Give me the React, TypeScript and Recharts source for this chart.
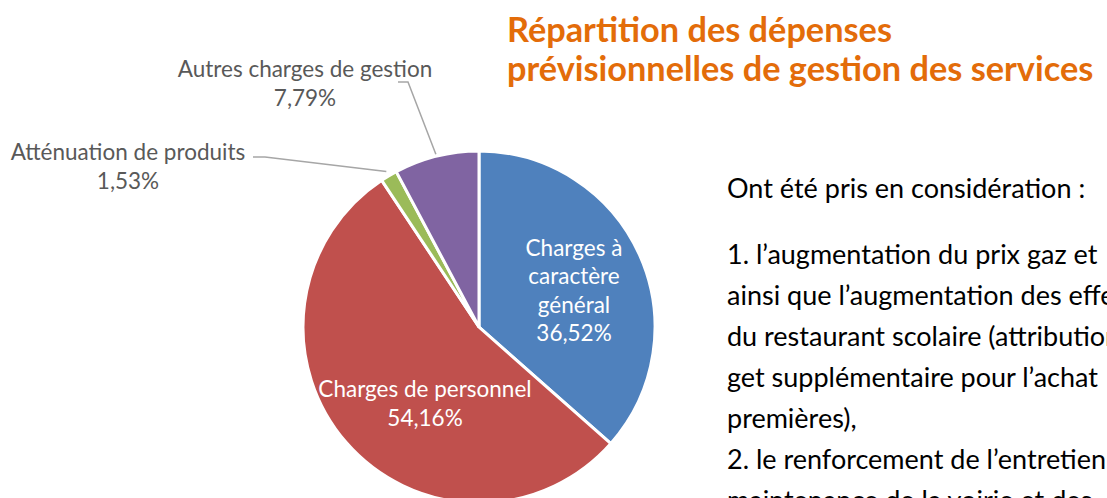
import React from "react";
import { PieChart, Pie, Cell } from "recharts";

// ---- Data ----
const categories = [
  "Charges à caractère général",
  "Charges de personnel",
  "Atténuation de produits",
  "Autres charges de gestion",
];
const values = [36.52, 54.16, 1.53, 7.79];
const labelNameLines = [
  ["Charges à", "caractère", "général"],
  ["Charges de personnel"],
  ["Atténuation de produits"],
  ["Autres charges de gestion"],
];
const titleLines = ["Répartition des dépenses", "prévisionnelles de gestion des services"];
const introLine = "Ont été pris en considération :";
const bodyLines = [
  "1. l’augmentation du prix gaz et",
  "ainsi que l’augmentation des effectifs",
  "du restaurant scolaire (attribution",
  "get supplémentaire pour l’achat",
  "premières),",
  "2. le renforcement de l’entretien",
  "maintenance de la voirie et des",
];

// ---- Styles / layout ----
const COLORS = ["#4F81BD", "#C0504D", "#9BBB59", "#8064A2"];
const FONT = "Lato, 'Open Sans', sans-serif";
const W = 1107;
const H = 498;
const CX = 479;
const CY = 327;
const R = 176;
const LABEL_FS = 22.5;
const LABEL_LH = 28.5;
const RAD = Math.PI / 180;

type Layout = {
  dx: number;
  dy: number;
  inside: boolean;
  line?: [number, number][];
  gap?: number;
};
const LABEL_LAYOUT: Layout[] = [
  { dx: 95, dy: -37, inside: true },
  { dx: -54, dy: 76, inside: true },
  { dx: -351, dy: -161, inside: false, line: [[-226, -170], [-214, -170]], gap: 5 },
  { dx: -174, dy: -244, inside: false, line: [[-81, -245], [-71, -245]], gap: 2 },
];

const data = categories.map((name, i) => ({ name, value: values[i] }));

const fmtPct = (v: number) => v.toFixed(2).replace(".", ",") + "%";

const renderLabel = (props: any) => {
  const { cx, cy, midAngle, outerRadius, index } = props;
  const lay = LABEL_LAYOUT[index];
  const lines = [...labelNameLines[index], fmtPct(values[index])];
  const x = cx + lay.dx;
  const yc = cy + lay.dy;
  const y0 = yc - ((lines.length - 1) * LABEL_LH) / 2;
  let leader = null;
  if (lay.line) {
    const rr = outerRadius + (lay.gap ?? 0);
    const ex = cx + rr * Math.cos(-midAngle * RAD);
    const ey = cy + rr * Math.sin(-midAngle * RAD);
    const pts = lay.line.map(([px, py]) => `${cx + px},${cy + py}`).join(" ") + ` ${ex},${ey}`;
    leader = <polyline points={pts} fill="none" stroke="#A6A6A6" strokeWidth={1.5} />;
  }
  return (
    <g key={`lbl-${index}`}>
      {leader}
      {lines.map((t, i) => (
        <text
          key={i}
          x={x}
          y={y0 + i * LABEL_LH}
          textAnchor="middle"
          dominantBaseline="central"
          fontFamily={FONT}
          fontSize={LABEL_FS}
          fill={lay.inside ? "#FFFFFF" : "#595959"}
        >
          {t}
        </text>
      ))}
    </g>
  );
};

export default function App() {
  return (
    <div
      style={{
        position: "absolute",
        left: 0,
        top: 0,
        width: W,
        height: H,
        overflow: "hidden",
        background: "#FFFFFF",
        fontFamily: FONT,
      }}
    >
      <div style={{ position: "absolute", left: 0, top: 0 }}>
        <PieChart width={W} height={H} margin={{ top: 0, right: 0, bottom: 0, left: 0 }}>
          <Pie
            data={data}
            dataKey="value"
            nameKey="name"
            cx={CX}
            cy={CY}
            outerRadius={R}
            startAngle={90}
            endAngle={-270}
            stroke="#FFFFFF"
            strokeWidth={3}
            label={renderLabel}
            labelLine={false}
            isAnimationActive={false}
          >
            {data.map((d, i) => (
              <Cell key={d.name} fill={COLORS[i]} />
            ))}
          </Pie>
        </PieChart>
      </div>
      <div
        style={{
          position: "absolute",
          left: 507,
          top: 9,
          color: "#E36C09",
          fontWeight: 700,
          fontSize: 34.3,
          lineHeight: "39px",
          whiteSpace: "nowrap",
        }}
      >
        {titleLines.map((t) => (
          <div key={t}>{t}</div>
        ))}
      </div>
      <div
        style={{
          position: "absolute",
          left: 727,
          top: 167,
          color: "#000000",
          fontSize: 27,
          lineHeight: "41px",
          whiteSpace: "nowrap",
        }}
      >
        {introLine}
      </div>
      <div
        style={{
          position: "absolute",
          left: 727,
          top: 233,
          color: "#000000",
          fontSize: 27,
          lineHeight: "41px",
          whiteSpace: "nowrap",
        }}
      >
        {bodyLines.map((t) => (
          <div key={t}>{t}</div>
        ))}
      </div>
    </div>
  );
}
